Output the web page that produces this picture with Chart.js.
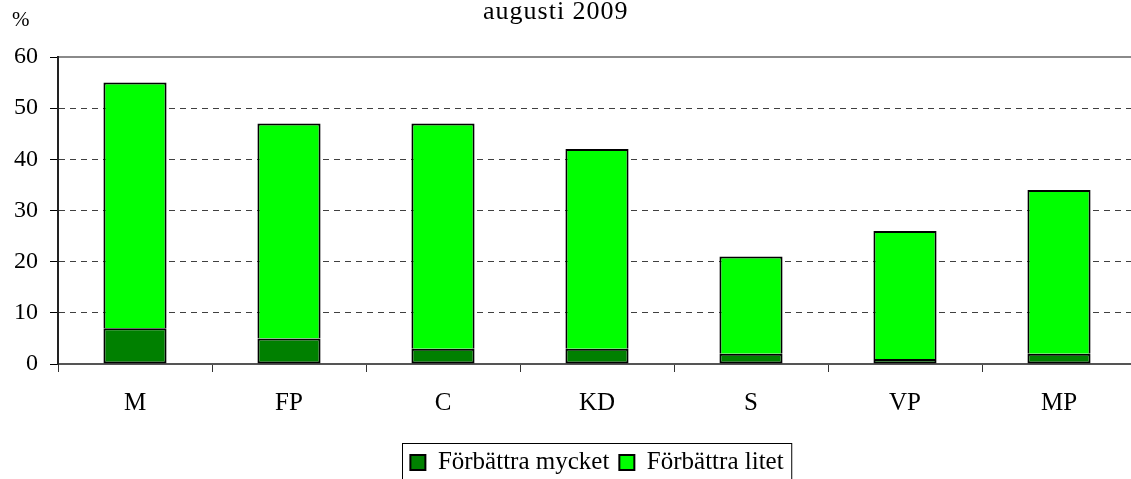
<!DOCTYPE html>
<html>
<head>
<meta charset="utf-8">
<script src="https://cdn.jsdelivr.net/npm/chart.js@4"></script>
<style>
  html, body { margin: 0; padding: 0; overflow: hidden; background: #fff; }
  #wrap { position: relative; width: 1137px; height: 487px; }
  .txt { position: absolute; font-family: "Liberation Serif", "Times New Roman", serif; color: #000; white-space: nowrap; }
  #title { left: 483px; top: -2px; font-size: 26px; line-height: 26px; letter-spacing: 1px; }
  #unit { left: 12px; top: 9px; font-size: 21px; line-height: 21px; }
</style>
</head>
<body>
<div id="wrap">
  <canvas id="myChart" width="1137" height="487"></canvas>
  <div id="title" class="txt">augusti 2009</div>
  <div id="unit" class="txt">%</div>
</div>
<script>
const categories = ["M", "FP", "C", "KD", "S", "VP", "MP"];
const mycket = [7, 5, 3, 3, 2, 1, 2];
const litet = [48, 42, 44, 39, 19, 25, 32];
const yTicks = [0, 10, 20, 30, 40, 50, 60];

const serif = "'Liberation Serif', 'Times New Roman', serif";
Chart.defaults.font.family = serif;
Chart.defaults.color = "#000";

// ram runt legenden
const legendBox = {
  id: "legendBox",
  afterDraw(chart) {
    const boxes = chart.legend.legendHitBoxes;
    if (!boxes || !boxes.length) return;
    const first = boxes[0];
    const last = boxes[boxes.length - 1];
    const ctx = chart.ctx;
    ctx.save();
    ctx.strokeStyle = "#000";
    ctx.lineWidth = 1;
    ctx.strokeRect(
      Math.round(first.left) - 7.5,
      Math.round(first.top) - 6.5,
      last.left + last.width - first.left + 16,
      60
    );
    ctx.restore();
  },
};

const config = {
  type: "bar",
  data: {
    labels: categories,
    datasets: [
      {
        label: "Förbättra mycket",
        data: mycket,
        backgroundColor: "#008000",
        borderColor: "#000",
        borderWidth: 2,
        borderSkipped: false,
        inflateAmount: 0,
        barPercentage: 0.41,
        categoryPercentage: 1,
      },
      {
        label: "Förbättra litet",
        data: litet,
        backgroundColor: "#00ff00",
        borderColor: "#000",
        borderWidth: 2,
        borderSkipped: "start",
        inflateAmount: 0,
        barPercentage: 0.41,
        categoryPercentage: 1,
      },
    ],
  },
  options: {
    responsive: false,
    animation: false,
    devicePixelRatio: 1,
    layout: { padding: { top: 57, right: 1, left: 0, bottom: 2 } },
    plugins: {
      title: { display: false },
      tooltip: { enabled: false },
      legend: {
        position: "bottom",
        fullSize: false,
        labels: {
          font: { size: 25 },
          boxWidth: 15,
          boxHeight: 15,
          padding: 10,
          color: "#000",
        },
      },
    },
    scales: {
      x: {
        stacked: true,
        grid: {
          drawOnChartArea: false,
          drawTicks: true,
          tickLength: 8,
          tickColor: "#333",
          tickWidth: 1,
          tickBorderDash: [],
          offset: true,
        },
        border: { color: "#555", width: 2 },
        ticks: { font: { size: 25 }, padding: 16, color: "#000" },
        afterFit(s) {
          s.height = 76;
        },
      },
      xTop: {
        type: "category",
        labels: categories,
        position: "top",
        grid: { display: false },
        ticks: { display: false },
        border: { color: "#8a8a8a", width: 2 },
        afterFit(s) {
          s.height = 0;
        },
      },
      y: {
        stacked: true,
        min: yTicks[0],
        max: yTicks[yTicks.length - 1],
        afterBuildTicks(s) {
          s.ticks = yTicks.map((v) => ({ value: v }));
        },
        ticks: { font: { size: 24 }, padding: 12, color: "#000" },
        grid: {
          color: (c) =>
            c.tick && (c.tick.value === 0 || c.tick.value === 60)
              ? "rgba(0,0,0,0)"
              : "#404040",
          lineWidth: 1,
          tickColor: "#000",
          tickLength: 8,
          tickBorderDash: [],
        },
        border: { color: "#222", width: 2, dash: [6, 5] },
        afterFit(s) {
          s.width = 58;
        },
      },
    },
  },
  plugins: [legendBox],
};

const ctx = document.getElementById("myChart").getContext("2d");
new Chart(ctx, config);
</script>
</body>
</html>
